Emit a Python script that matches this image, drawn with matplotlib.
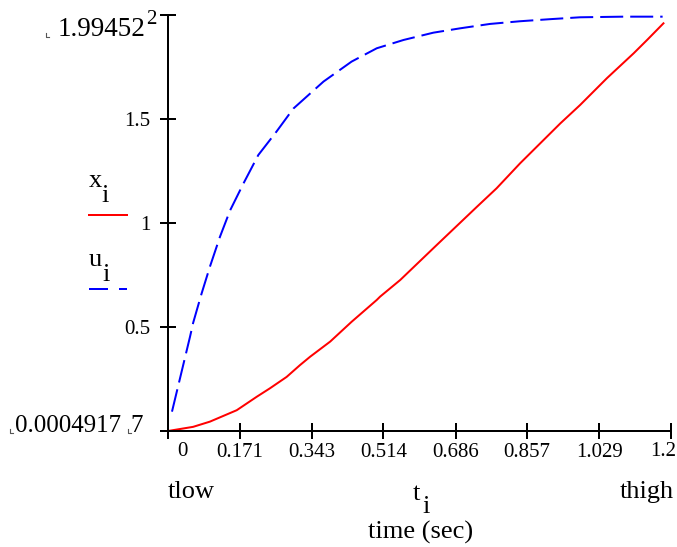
import matplotlib
matplotlib.use("Agg")
import matplotlib.pyplot as plt
from matplotlib.lines import Line2D

plt.rcParams['font.family'] = ['Liberation Serif', 'DejaVu Serif']

# ---- data ----
t_x = [0.0, 0.06, 0.10, 0.164, 0.212, 0.243, 0.283, 0.315, 0.339, 0.387,
       0.438, 0.498, 0.506, 0.554, 0.641, 0.737, 0.784, 0.840, 0.936, 0.983,
       1.047, 1.111, 1.143, 1.182]
x_vals = [0.0, 0.02, 0.045, 0.10, 0.165, 0.205, 0.26, 0.317, 0.357, 0.43,
          0.525, 0.63, 0.646, 0.726, 0.894, 1.078, 1.167, 1.287, 1.479, 1.567,
          1.696, 1.816, 1.88, 1.96]

t_u = [0.0095, 0.0525, 0.06, 0.080, 0.100, 0.124, 0.148, 0.18, 0.2155, 0.259,
       0.299, 0.371, 0.438, 0.498, 0.562, 0.633, 0.697, 0.768, 0.840, 0.912,
       0.983, 1.086, 1.18]
u_vals = [0.093, 0.453, 0.52, 0.66, 0.79, 0.934, 1.06, 1.19, 1.327, 1.44,
          1.55, 1.68, 1.776, 1.84, 1.88, 1.915, 1.936, 1.957, 1.97, 1.98,
          1.989, 1.992, 1.992]

x_ticks = [0, 0.171, 0.343, 0.514, 0.686, 0.857, 1.029, 1.2]
x_tick_labels = ['', '0.171', '0.343', '0.514', '0.686', '0.857', '1.029', '']
y_ticks = [0, 0.5, 1, 1.5, 2]
y_tick_labels = ['', '0.5', '1', '1.5', '']

W, H = 677, 547
fig = plt.figure(figsize=(W / 100, H / 100), dpi=100)

def P(x, y):
    return (x / W, 1 - y / H)

ax = fig.add_axes([168 / W, (H - 431) / H, 503 / W, 416 / H])
ax.set_xlim(0, 1.2)
ax.set_ylim(0, 2)

ax.plot(t_x, x_vals, color='#ff0000', lw=1.44, clip_on=False)
ax.plot(t_u, u_vals, color='#0000ff', lw=1.44, linestyle=(0, (11.5, 3.5)), clip_on=False)

for s in ['top', 'right']:
    ax.spines[s].set_visible(False)
for s in ['left', 'bottom']:
    ax.spines[s].set_linewidth(1.44)
ax.set_xticks(x_ticks)
ax.set_xticklabels(x_tick_labels)
ax.set_yticks(y_ticks)
ax.set_yticklabels(y_tick_labels)
ax.tick_params(axis='both', direction='inout', length=11.5, width=1.44, labelsize=15)
ax.tick_params(axis='x', pad=3)
ax.tick_params(axis='y', pad=7)

# manual labels
fig.text(*P(182, 452), '0', fontsize=15, ha='center', va='center')
fig.text(*P(676, 452), '1.2', fontsize=15, ha='right', va='center')
fig.text(*P(151, 19), '2', fontsize=15, ha='center', va='center')
fig.text(*P(145, 30), '1.99452', fontsize=19.5, ha='right', va='center')
fig.text(*P(15, 426), '0.0004917', fontsize=18, ha='left', va='center')
fig.text(*P(130, 426), '7', fontsize=18, ha='left', va='center')

# small Mathcad placeholder corner marks
for (cx, cy) in [(46, 37), (10, 433), (128, 433)]:
    fig.add_artist(Line2D([cx / W, cx / W, (cx + 3) / W],
                          [1 - (cy - 4) / H, 1 - cy / H, 1 - cy / H],
                          color='#555555', lw=0.8, transform=fig.transFigure))

fig.text(*P(168, 492), 'tlow', fontsize=19, ha='left', va='center')
fig.text(*P(674, 492), 'thigh', fontsize=19, ha='right', va='center')
fig.text(*P(413, 500), 't', fontsize=19, ha='left', va='baseline')
fig.text(*P(422, 513), 'i', fontsize=19, ha='left', va='baseline')
fig.text(*P(421, 532), 'time (sec)', fontsize=19, ha='center', va='center')

# legend
fig.text(*P(89, 187), 'x', fontsize=19, ha='left', va='baseline')
fig.text(*P(101, 202), 'i', fontsize=19, ha='left', va='baseline')
fig.text(*P(89, 266), 'u', fontsize=19, ha='left', va='baseline')
fig.text(*P(102, 281), 'i', fontsize=19, ha='left', va='baseline')
fig.add_artist(Line2D([89 / W, 127 / W], [1 - 215 / H, 1 - 215 / H],
                      color='#ff0000', lw=1.44, transform=fig.transFigure))
fig.add_artist(Line2D([89 / W, 127 / W], [1 - 289 / H, 1 - 289 / H],
                      color='#0000ff', lw=1.44, linestyle=(0, (9.5, 5.5)),
                      transform=fig.transFigure))

fig.savefig('out.png', dpi=100)
